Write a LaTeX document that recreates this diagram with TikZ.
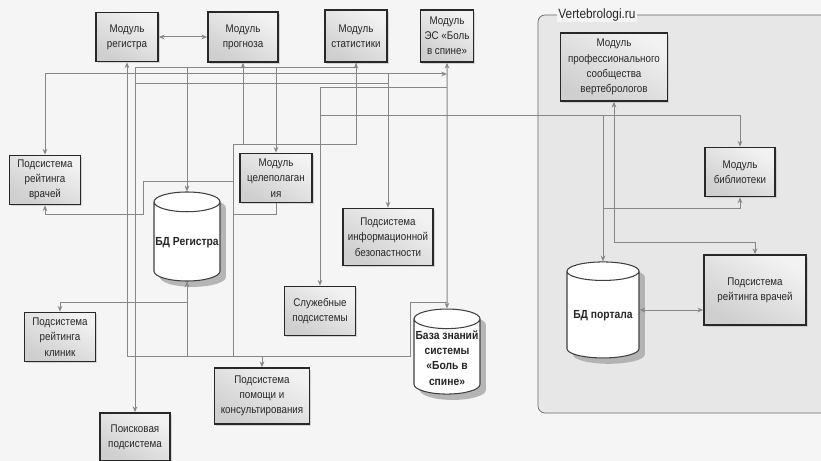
\documentclass[tikz,border=0pt]{standalone}
\usepackage{fontspec}
\setmainfont{Liberation Sans}[FakeStretch=0.88]
\usetikzlibrary{shapes.geometric,shadows,arrows.meta}
\definecolor{linegray}{RGB}{135,135,135}
\definecolor{boxedge}{RGB}{40,40,40}
\definecolor{pagebg}{RGB}{245,245,245}
\definecolor{groupbg}{RGB}{231,231,231}

\begin{document}
\begin{tikzpicture}[x=0.03cm, y=-0.03cm,
    every node/.style={font=\fontsize{9.5}{13}\selectfont, text=black!85},
    block/.style={draw=boxedge, line width=1.3pt, align=center, inner sep=2pt,
      top color=gray!10, bottom color=gray!38, shading angle=-30,
      drop shadow={shadow xshift=1.5pt, shadow yshift=-1.5pt, fill=gray!60}},
    dbase/.style={cylinder, shape border rotate=90, aspect=0.3, draw=black!75,
      line width=0.9pt, fill=white, align=center, inner sep=1pt,
      font=\fontsize{10}{13}\selectfont\bfseries,
      drop shadow={shadow xshift=5pt, shadow yshift=-5pt, fill=gray!70, opacity=0.8}},
    portalbox/.style={draw=black!60, line width=0.6pt, rounded corners=6pt, fill=groupbg},
    conn/.style={draw=linegray, line width=0.85pt},
    >={Stealth[length=5pt,width=4pt]}]

  \clip (0,0) rectangle (821,461);
  \fill[pagebg] (0,0) rectangle (821,461);

  % Vertebrologi.ru
  \node[portalbox, minimum width=9.06cm, minimum height=11.94cm] (portal) at (689,214) {};
  \node[fill=pagebg, inner sep=1pt, anchor=west, font=\fontsize{11.5}{13}\selectfont] (portallbl) at (557,15) {Vertebrologi.ru};

  \node[block, minimum width=1.86cm, minimum height=1.47cm] (reg) at (127,37) {Модуль\\регистра};
  \node[block, minimum width=2.1cm, minimum height=1.5cm] (prog) at (243,37) {Модуль\\прогноза};
  \node[block, minimum width=1.86cm, minimum height=1.56cm] (stat) at (356,36) {Модуль\\статистики};
  \node[block, minimum width=1.59cm, minimum height=1.56cm] (es) at (447,36) {Модуль\\ЭС «Боль\\в спине»};
  \node[block, minimum width=3.21cm, minimum height=2.04cm] (prof) at (614,67) {Модуль\\профессионального\\сообщества\\вертебрологов};
  \node[block, minimum width=2.1cm, minimum height=1.47cm] (lib) at (740,172) {Модуль\\библиотеки};
  \node[block, minimum width=3.06cm, minimum height=2.1cm] (vrR) at (755,290) {Подсистема\\рейтинга врачей};
  \node[dbase, minimum width=2.16cm, minimum height=2.88cm] (bdp) at (603,316) {БД портала};
  \node[block, minimum width=2.13cm, minimum height=1.47cm] (vrL) at (45,180) {Подсистема\\рейтинга\\врачей};
  \node[block, minimum width=2.16cm, minimum height=1.47cm] (cel) at (276,178) {Модуль\\целеполаган\\ия};
  \node[dbase, minimum width=1.98cm, minimum height=2.67cm] (bdr) at (187,243) {БД Регистра};
  \node[block, minimum width=2.7cm, minimum height=1.71cm] (bez) at (388,237) {Подсистема\\информационной\\безопастности};
  \node[block, minimum width=2.13cm, minimum height=1.47cm] (sluz) at (320,311) {Служебные\\подсистемы};
  \node[dbase, minimum width=1.98cm, minimum height=2.55cm] (bz) at (447,358) {База знаний\\системы\\«Боль в\\спине»};
  \node[block, minimum width=2.13cm, minimum height=1.47cm] (klin) at (60,337) {Подсистема\\рейтинга\\клиник};
  \node[block, minimum width=2.85cm, minimum height=1.68cm] (pom) at (262,396) {Подсистема\\помощи и\\консультирования};
  \node[block, minimum width=2.1cm, minimum height=1.44cm] (poisk) at (135,437) {Поисковая\\подсистема};

  % bus levels
  \coordinate (yb1) at (0,68);
  \coordinate (yb2) at (0,74);
  \coordinate (yb3) at (0,84);
  \coordinate (yb4) at (0,88);
  \coordinate (yb5) at (0,116);
  \coordinate (yb6) at (233,145);
  \coordinate (yb7) at (0,356);
  \coordinate (yb8) at (0,302);
  \coordinate (yb9) at (0,209);
  \coordinate (yb10) at (0,242);
  \coordinate (yb11) at (0,310);
  \coordinate (kn) at (410,302);
  \coordinate (h1) at (233,182);
  \coordinate (h2) at (143,215);

  \draw[conn, <->] (reg) -- (prog);
  \draw[conn, <->] (vrL.north) |- (es.south |- yb2);
  \draw[conn, ->] (bez.north |- yb2) -- (bez.north);
  \draw[conn, <->] (stat.south) |- (poisk.north |- yb1) -- (poisk.north);
  \draw[conn, ->] (bdr.north |- yb1) -- (bdr.north);
  \draw[conn, ->] (cel.north |- yb1) -- (cel.north);
  \draw[conn] (poisk.north |- yb3) -- (bez.north |- yb3);
  \draw[conn, <-] (reg.south) |- (kn |- yb7) -- (kn) -- (bz.north |- kn);
  \draw[conn, <->] (es.south) -- (bz.north);
  \draw[conn, ->] (pom.north |- yb7) -- (pom.north);
  \draw[conn, ->] (bdr.south |- yb7) -- (bdr.south);
  \draw[conn, ->] (bdr.south) |- (klin.north |- yb8) -- (klin.north);
  \draw[conn] (stat.south) |- (yb6) -- (yb6 |- yb7);
  \draw[conn, <-] (prog.south) -- (prog.south |- yb6);
  \draw[conn, ->] (cel.south) |- (h1 |- h2) -- (h1) -- (h2 |- h1) -- (h2) -| (vrL.south);
  \draw[conn, ->] (es.south |- yb4) -| (sluz.north);
  \draw[conn, ->] (sluz.north |- yb5) -| (lib.north);
  \draw[conn, ->] (bdp.north |- yb5) -- (bdp.north);
  \draw[conn, ->] (bdp.north |- yb9) -| (lib.south);
  \draw[conn, <->] (prof.south) |- (vrR.north |- yb10) -- (vrR.north);
  \draw[conn, <->] (bdp.east |- yb11) -- (vrR.west |- yb11);
\end{tikzpicture}
\end{document}
